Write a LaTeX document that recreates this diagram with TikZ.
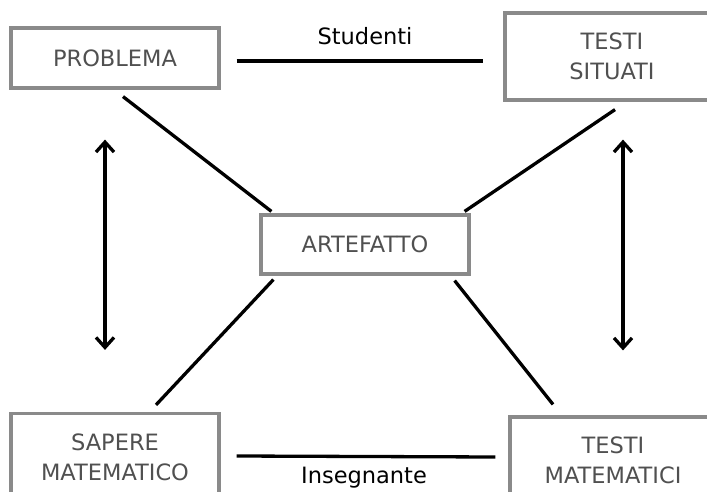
\documentclass[tikz,border=0pt]{standalone}
\usepackage{fontspec}
\setmainfont{DejaVu Sans}
\usetikzlibrary{calc,arrows.meta}
\definecolor{boxgray}{HTML}{8A8A8A}
\definecolor{txtgray}{HTML}{505050}

\begin{document}
\begin{tikzpicture}[x=1pt,y=-1pt]
\tikzstyle{block} = [rectangle, draw=boxgray, line width=3.2pt, text=txtgray, align=center, font=\fontsize{22.5}{30}\selectfont, minimum width=208pt, minimum height=60pt, inner sep=0pt]
\tikzstyle{link} = [line width=3.3pt]
\tikzstyle{arrow} = [line width=3.3pt, {Straight Barb[length=10pt,width=18pt]}-{Straight Barb[length=10pt,width=18pt]}]
\tikzstyle{lbl} = [font=\fontsize{22.5}{27}\selectfont, inner sep=0pt]

\clip (0,0) rectangle (707,492);
\fill[white] (0,0) rectangle (707,492);

\node (problema) [block] at (115,58) {PROBLEMA};
\node (testisit) [block, minimum width=214pt, minimum height=87pt] at (612,56.5) {TESTI\\SITUATI};
\node (artefatto) [block, minimum height=59pt] at (365,244.5) {ARTEFATTO};
\node (sapere) [block, minimum height=87pt] at (115,457) {SAPERE\\MATEMATICO};
\node (testimat) [block, minimum width=206pt, minimum height=86pt] at (613,460) {TESTI\\MATEMATICI};

% orizzontali
\draw [link] ($(problema.east)+(16,3)$) -- node[lbl, above=15pt, xshift=5pt] (studenti) {Studenti} ($(testisit.west)+(-20,4.5)$);
\draw [link] ($(sapere.east)+(16,-1)$) -- node[lbl, below=9pt, xshift=-2pt] (insegnante) {Insegnante} ($(testimat.west)+(-13,-3)$);

% verso artefatto
\draw [link] ($(problema.south)+(8,7)$) -- ($(artefatto.north west)+(12,-2)$);
\draw [link] ($(testisit.south)+(3,8)$) -- ($(artefatto.north east)+(-6,-2)$);
\draw [link] ($(artefatto.south west)+(14,4)$) -- ($(sapere.north)+(41,-7)$);
\draw [link] ($(artefatto.south east)+(-16,5)$) -- ($(testimat.north)+(-60,-11)$);

% verticali
\draw [arrow] ($(problema.south)+(-10,50)$) -- ($(sapere.north)+(-10,-62)$);
\draw [arrow] ($(testisit.south)+(11,38)$) -- ($(testimat.north)+(10,-65)$);
\end{tikzpicture}
\end{document}
